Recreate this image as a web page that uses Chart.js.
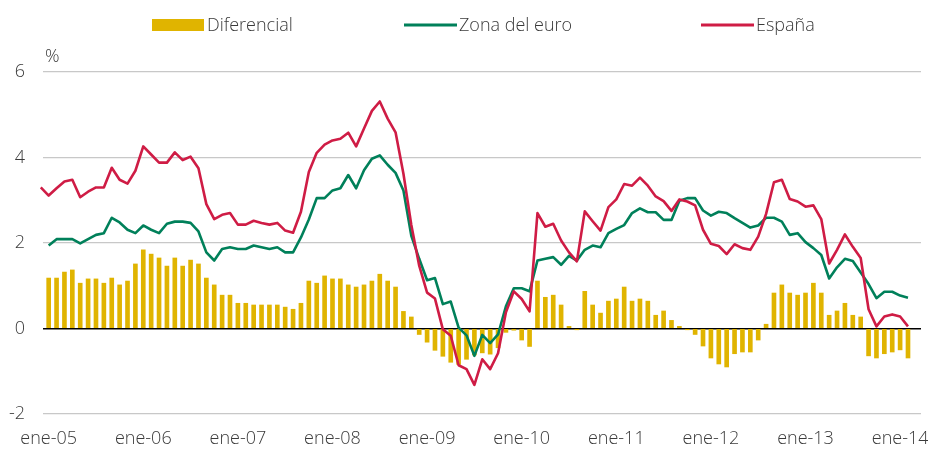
<!DOCTYPE html>
<html lang="es">
<head>
<meta charset="utf-8">
<title>Inflación: España y zona del euro</title>
<script src="https://cdn.jsdelivr.net/npm/chart.js@4/dist/chart.umd.min.js"></script>
<style>
  html, body { margin: 0; padding: 0; background: #fff; }
  #caja { width: 928px; height: 450px; position: relative; }
</style>
</head>
<body>
<div id="caja"><canvas id="grafico"></canvas></div>
<script>
// Etiquetas del eje X (una por año, en enero)
var etiquetasX = ['ene-05', 'ene-06', 'ene-07', 'ene-08', 'ene-09', 'ene-10', 'ene-11', 'ene-12', 'ene-13', 'ene-14'];

// Diferencial, ene-05 .. feb-14
var diferencial = [
  1.18, 1.18, 1.32, 1.37, 1.06, 1.16, 1.16, 1.06, 1.18, 1.02, 1.11, 1.51,
  1.84, 1.74, 1.65, 1.46, 1.65, 1.46, 1.60, 1.51, 1.18, 1.02, 0.78, 0.78,
  0.59, 0.59, 0.55, 0.55, 0.55, 0.55, 0.50, 0.45, 0.59, 1.11, 1.06, 1.23,
  1.16, 1.16, 1.02, 0.97, 1.02, 1.11, 1.27, 1.11, 0.97, 0.40, 0.27, -0.14,
  -0.32, -0.51, -0.65, -0.79, -0.84, -0.72, -0.62, -0.57, -0.60, -0.45, -0.09, -0.04,
  -0.27, -0.42, 1.11, 0.73, 0.78, 0.55, 0.05, -0.03, 0.87, 0.55, 0.36, 0.64,
  0.69, 0.97, 0.64, 0.69, 0.64, 0.31, 0.41, 0.19, 0.05, -0.03, -0.14, -0.41,
  -0.69, -0.83, -0.90, -0.59, -0.55, -0.55, -0.27, 0.10, 0.83, 1.02, 0.83, 0.78,
  0.83, 1.06, 0.83, 0.31, 0.41, 0.59, 0.31, 0.27, -0.64, -0.69, -0.59, -0.55,
  -0.50, -0.69
];

// Zona del euro, ene-05 .. feb-14
var zonaEuro = [
  1.94, 2.09, 2.09, 2.09, 1.99, 2.09, 2.19, 2.23, 2.59, 2.48, 2.31, 2.23,
  2.41, 2.31, 2.23, 2.45, 2.50, 2.50, 2.47, 2.27, 1.78, 1.59, 1.86, 1.90,
  1.86, 1.86, 1.94, 1.90, 1.86, 1.90, 1.78, 1.78, 2.13, 2.55, 3.05, 3.05,
  3.23, 3.28, 3.59, 3.28, 3.70, 3.97, 4.05, 3.83, 3.64, 3.23, 2.17, 1.63,
  1.13, 1.18, 0.57, 0.63, 0.02, -0.16, -0.64, -0.15, -0.34, -0.14, 0.52, 0.94,
  0.94, 0.87, 1.59, 1.63, 1.67, 1.49, 1.70, 1.59, 1.84, 1.94, 1.90, 2.23,
  2.33, 2.42, 2.70, 2.81, 2.72, 2.72, 2.54, 2.54, 2.99, 3.05, 3.05, 2.76,
  2.64, 2.73, 2.70, 2.58, 2.47, 2.36, 2.41, 2.59, 2.59, 2.50, 2.19, 2.23,
  2.02, 1.88, 1.72, 1.17, 1.43, 1.63, 1.58, 1.31, 1.04, 0.71, 0.86, 0.86,
  0.77, 0.72
];

// España, dic-04 .. feb-14 (empieza un mes antes)
var espana = [
  3.30,
  3.11, 3.28, 3.44, 3.48, 3.07, 3.20, 3.30, 3.30, 3.76, 3.48, 3.39, 3.69,
  4.26, 4.07, 3.88, 3.88, 4.12, 3.94, 4.02, 3.75, 2.91, 2.56, 2.66, 2.70,
  2.43, 2.43, 2.52, 2.47, 2.43, 2.47, 2.29, 2.24, 2.73, 3.66, 4.11, 4.30,
  4.40, 4.44, 4.58, 4.26, 4.68, 5.09, 5.31, 4.91, 4.59, 3.62, 2.42, 1.47,
  0.84, 0.70, -0.02, -0.17, -0.86, -0.95, -1.32, -0.72, -0.95, -0.58, 0.38, 0.87,
  0.69, 0.40, 2.70, 2.38, 2.45, 2.06, 1.78, 1.57, 2.74, 2.51, 2.29, 2.84,
  3.02, 3.38, 3.34, 3.53, 3.34, 3.09, 2.98, 2.75, 3.02, 2.97, 2.88, 2.31,
  1.98, 1.93, 1.74, 1.97, 1.88, 1.84, 2.15, 2.68, 3.42, 3.48, 3.03, 2.97,
  2.85, 2.88, 2.56, 1.52, 1.84, 2.20, 1.91, 1.65, 0.45, 0.05, 0.28, 0.33,
  0.28, 0.05
];

var FUENTE = '300 18px "Open Sans", "DejaVu Sans", sans-serif';
var GRIS_TEXTO = '#3a3a3a';

// x = meses desde ene-05
function puntos(valores, desfase) {
  return valores.map(function (v, i) { return { x: i + desfase, y: v }; });
}

// Leyenda y unidad dibujadas a mano para respetar el espaciado del original
var leyenda = {
  id: 'leyenda',
  afterDraw: function (chart) {
    var ctx = chart.ctx;
    var xs = [152, 404, 701];
    var y = 25;
    ctx.save();
    ctx.font = FUENTE;
    ctx.textBaseline = 'middle';
    chart.data.datasets.forEach(function (ds, k) {
      var x = xs[k];
      if (ds.type === 'bar') {
        ctx.fillStyle = ds.backgroundColor;
        ctx.fillRect(x, y - 6, 52, 12);
      } else {
        ctx.strokeStyle = ds.borderColor;
        ctx.lineWidth = 3;
        ctx.beginPath();
        ctx.moveTo(x, y);
        ctx.lineTo(x + 53, y);
        ctx.stroke();
      }
      ctx.fillStyle = GRIS_TEXTO;
      ctx.textAlign = 'left';
      ctx.fillText(ds.label, x + 55, y + 1);
    });
    ctx.fillText('%', 45, 57);
    ctx.restore();
  }
};

var ctx = document.getElementById('grafico').getContext('2d');
var grafico = new Chart(ctx, {
  data: {
    datasets: [{
      type: 'bar',
      label: 'Diferencial',
      data: puntos(diferencial, 0),
      backgroundColor: '#E0B400',
      barThickness: 4,
      order: 3
    }, {
      type: 'line',
      label: 'Zona del euro',
      data: puntos(zonaEuro, 0),
      borderColor: '#00805A',
      borderWidth: 2.6,
      pointRadius: 0,
      tension: 0,
      borderJoinStyle: 'round',
      order: 2
    }, {
      type: 'line',
      label: 'España',
      data: puntos(espana, -1),
      borderColor: '#CF1C45',
      borderWidth: 2.6,
      pointRadius: 0,
      tension: 0,
      borderJoinStyle: 'round',
      clip: false,
      order: 1
    }]
  },
  options: {
    responsive: true,
    maintainAspectRatio: false,
    animation: false,
    layout: { padding: { top: 72, left: 9, right: 7, bottom: 2 } },
    plugins: {
      legend: { display: false },
      tooltip: { enabled: false }
    },
    scales: {
      x: {
        type: 'linear',
        offset: false,
        min: -0.72,
        max: 110.65,
        grid: { display: false, drawTicks: false },
        border: { display: false },
        afterBuildTicks: function (scale) {
          scale.ticks = etiquetasX.map(function (t, k) { return { value: k * 12 }; });
        },
        afterFit: function (scale) {
          scale.paddingLeft = 0;
          scale.paddingRight = 0;
          scale.height = 34;
        },
        ticks: {
          autoSkip: false,
          maxRotation: 0,
          padding: 14,
          color: GRIS_TEXTO,
          font: { family: '"Open Sans", "DejaVu Sans", sans-serif', size: 18, weight: '300' },
          callback: function (v) { return etiquetasX[Math.round(v / 12)]; }
        }
      },
      y: {
        min: -2,
        max: 6,
        border: { display: false },
        afterFit: function (scale) {
          scale.width = 34;
        },
        grid: {
          drawTicks: false,
          color: function (c) { return c.tick.value === 0 ? '#000000' : '#c8c8c8'; },
          lineWidth: function (c) { return c.tick.value === 0 ? 1.6 : 1.3; }
        },
        ticks: {
          stepSize: 2,
          padding: 18,
          color: GRIS_TEXTO,
          font: { family: '"Open Sans", "DejaVu Sans", sans-serif', size: 18, weight: '300' }
        }
      }
    }
  },
  plugins: [leyenda]
});
</script>
</body>
</html>
